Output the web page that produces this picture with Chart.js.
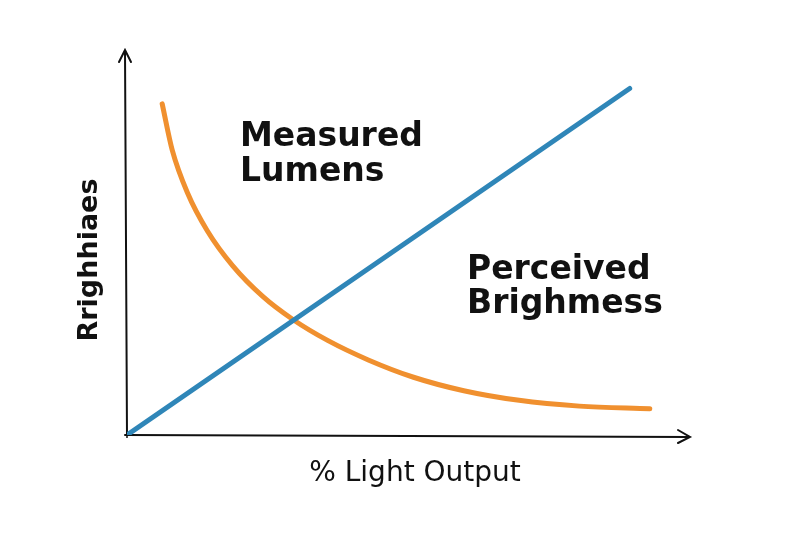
<!DOCTYPE html>
<html>
<head>
<meta charset="utf-8">
<script src="https://cdn.jsdelivr.net/npm/chart.js@4/dist/chart.umd.min.js"></script>
<style>
  html, body { margin: 0; background: #fff; }
  #wrap { width: 800px; height: 533px; }
</style>
</head>
<body>
<div id="wrap"><canvas id="chart"></canvas></div>
<script>
// values (x: % light output, y: relative level)
const measuredX = [0, 100];
const measuredY = [0, 90];
const perceivedX = [7, 9, 12, 16, 21, 27, 33, 40, 48, 57, 67, 78, 90, 104];
const perceivedY = [86, 74, 63, 53, 44, 36, 30, 24.5, 19.5, 15, 11.5, 9, 7.5, 6.8];

const seriesLabels = ['Measured\nLumens', 'Perceived\nBrighmess'];
const xTitle = '% Light Output';
const yTitle = 'Rrighhiaes';

const toPts = (xs, ys) => xs.map((x, i) => ({ x, y: ys[i] }));

const sketchAxes = {
  id: 'sketchAxes',
  beforeDatasetsDraw(chart) {
    const { ctx, chartArea: a } = chart;
    ctx.save();
    ctx.strokeStyle = '#111';
    ctx.lineWidth = 2;
    ctx.lineCap = 'round';
    ctx.beginPath();
    ctx.moveTo(a.left, a.bottom + 2);
    ctx.lineTo(a.left - 2, a.top);
    ctx.moveTo(a.left - 2, a.bottom);
    ctx.lineTo(a.right, a.bottom + 2);
    // arrow heads
    ctx.moveTo(a.left - 8, a.top + 12); ctx.lineTo(a.left - 2, a.top); ctx.lineTo(a.left + 4, a.top + 12);
    ctx.moveTo(a.right - 12, a.bottom - 5); ctx.lineTo(a.right, a.bottom + 2); ctx.lineTo(a.right - 12, a.bottom + 8);
    ctx.stroke();

    ctx.fillStyle = '#111';
    ctx.font = '600 33px "DejaVu Sans", sans-serif';
    ctx.textBaseline = 'middle';
    const [m1, m2] = seriesLabels[0].split('\n');
    ctx.fillText(m1, 240, 137);
    ctx.fillText(m2, 240, 172);
    const [p1, p2] = seriesLabels[1].split('\n');
    ctx.fillText(p1, 467, 270);
    ctx.fillText(p2, 467, 304);

    ctx.font = '500 28px "DejaVu Sans", sans-serif';
    ctx.textAlign = 'center';
    ctx.fillText(xTitle, 415, 474);

    ctx.translate(90, 260);
    ctx.rotate(-Math.PI / 2);
    ctx.font = '600 27px "DejaVu Sans", sans-serif';
    ctx.fillText(yTitle, 0, 0);
    ctx.restore();
  }
};

new Chart(document.getElementById('chart'), {
  type: 'scatter',
  data: {
    datasets: [
      { label: 'Measured Lumens', data: toPts(measuredX, measuredY), showLine: true,
        borderColor: '#2f86b8', borderWidth: 5, pointRadius: 0, borderCapStyle: 'round' },
      { label: 'Perceived Brightness', data: toPts(perceivedX, perceivedY), showLine: true,
        borderColor: '#f0902f', borderWidth: 5, pointRadius: 0, tension: 0.4,
        cubicInterpolationMode: 'monotone', borderCapStyle: 'round' }
    ]
  },
  options: {
    responsive: true,
    maintainAspectRatio: false,
    animation: false,
    layout: { padding: { left: 127, right: 110, top: 50, bottom: 98 } },
    plugins: { legend: { display: false }, tooltip: { enabled: false } },
    scales: {
      x: { type: 'linear', min: 0, max: 112, display: false },
      y: { type: 'linear', min: 0, max: 100, display: false }
    }
  },
  plugins: [sketchAxes]
});
</script>
</body>
</html>
